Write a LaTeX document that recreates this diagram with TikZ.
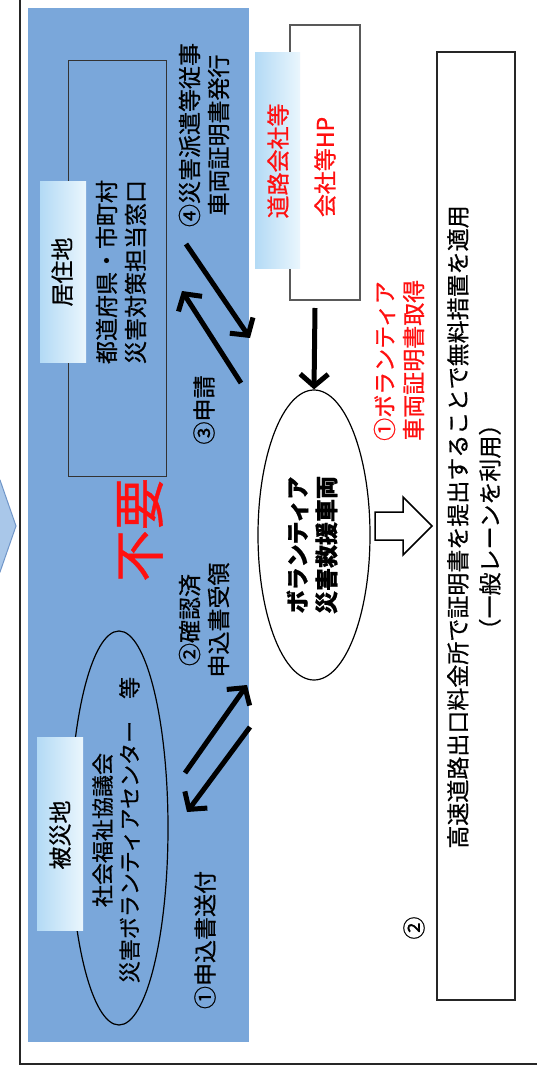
\documentclass[tikz,border=0pt]{standalone}
\usepackage{fontspec}
\setmainfont{Noto Sans CJK JP}[FakeBold=0.7]
\usetikzlibrary{arrows.meta,shapes.geometric}
\definecolor{bgblue}{HTML}{7AA7DA}
\definecolor{lblblue}{HTML}{B3DAF5}
\definecolor{lblwhite}{HTML}{EAF6FD}
\definecolor{chev}{HTML}{A9C7E9}
\definecolor{chevline}{HTML}{6F95C8}
\definecolor{jred}{HTML}{FF1010}
\tikzset{
  txt/.style={rotate=90, inner sep=0pt, align=center, font=\fontsize{23}{29}\selectfont},
  redtxt/.style={txt, text=jred},
  lblbox/.style={left color=lblblue, right color=lblwhite, draw=none, minimum width=46pt, inner sep=0pt},
  fatarrow/.style={line width=5pt, -{Straight Barb[length=12pt,width=28pt]}},
  oval/.style={ellipse, draw=black, line width=1.2pt, inner sep=0pt},
}
\begin{document}
\begin{tikzpicture}[x=1pt,y=-1pt]
\useasboundingbox (0,0) rectangle (536,1075);
\fill[white] (0,0) rectangle (536,1075);
% chevron from previous panel
\filldraw[fill=chev, draw=chevline, line width=1pt] (-2,480) -- (0,480) -- (16,526) -- (0,572) -- (-2,572) -- cycle;
% outer frame
\draw[line width=1.8pt, black!85] (20,-2) -- (20,1064) -- (538,1064);
% blue area
\node[fill=bgblue, minimum width=221pt, minimum height=1034pt, inner sep=0pt] (area) at (138.5,525) {};
% residence
\node[draw=black!80, line width=0.8pt, minimum width=98pt, minimum height=416pt, inner sep=0pt] (res) at (117,268) {};
\node[lblbox, minimum height=180pt] (reslbl) at (63,272) {};
\node[txt] (reslbltxt) at (62,272) {居住地};
\node[txt] (restxt) at (121,272) {都道府県・市町村\\災害対策担当窓口};
% disaster site
\node[oval, minimum width=98pt, minimum height=394pt] (site) at (119,828) {};
\node[lblbox, minimum height=193pt] (sitelbl) at (60,833.5) {};
\node[txt] (sitelbltxt) at (60,835) {被災地};
\node[txt, font=\fontsize{22}{27}\selectfont] (sitetxt) at (116,830) {社会福祉協議会\\災害ボランティアセンター　等};
% labels in blue area
\node[txt] (l4) at (204,135) {④災害派遣等従事\\車両証明書発行};
\node[txt] (l3) at (204,410) {③申請};
\node[txt, text=jred, font=\fontsize{52}{52}\selectfont] (fuyo) at (140,530) {不要};
\node[txt] (l2) at (204,620) {②確認済\\申込書受領};
\node[txt] (l1) at (205,940) {①申込書送付};
% arrows in blue area
\coordinate (a1s) at (186,244); \coordinate (a1e) at (250,338);
\coordinate (a2s) at (241,383); \coordinate (a2e) at (182,291);
\coordinate (a3s) at (185,773); \coordinate (a3e) at (247,685);
\coordinate (a4s) at (250,727); \coordinate (a4e) at (187,812);
\draw[fatarrow] (a1s) -- (a1e);
\draw[fatarrow] (a2s) -- (a2e);
\draw[fatarrow] (a3s) -- (a3e);
\draw[fatarrow] (a4s) -- (a4e);
% road company
\node[draw=black!65, fill=white, line width=1.2pt, minimum width=70pt, minimum height=275pt, inner sep=0pt] (road) at (325,162.5) {};
\node[lblbox, minimum width=45pt, minimum height=215pt] (roadlbl) at (277.5,160.5) {};
\node[redtxt] (roadtxt) at (278,161) {道路会社等};
\node[redtxt] (hptxt) at (325,167) {会社等HP};
% vehicle
\node[oval, minimum width=112pt, minimum height=290pt] (veh) at (314,535) {};
\node[txt, font=\fontsize{23}{29}\selectfont\bfseries] (vehtxt) at (312,545) {ボランティア\\災害救援車両};
\coordinate (dnS) at (315,308);
\draw[fatarrow] (dnS) -- (veh.north);
\node[redtxt, align=left, anchor=west] (gettxt) at (399,441) {①ボランティア\\車両証明書取得};
% block arrow
\draw[line width=1.5pt, fill=white] (375,512) -- (403,512) -- (403,497) -- (432,526) -- (403,555) -- (403,540) -- (375,540) -- cycle;
% toll box
\node[draw=black!85, line width=1.5pt, minimum width=78pt, minimum height=948pt, inner sep=0pt] (toll) at (476,526) {};
\node[txt, font=\fontsize{23}{32}\selectfont] (tolltxt) at (474,527) {高速道路出口料金所で証明書を提出することで無料措置を適用\\（一般レーンを利用）};
\node[txt] (c2) at (414,928) {②};
\end{tikzpicture}
\end{document}
